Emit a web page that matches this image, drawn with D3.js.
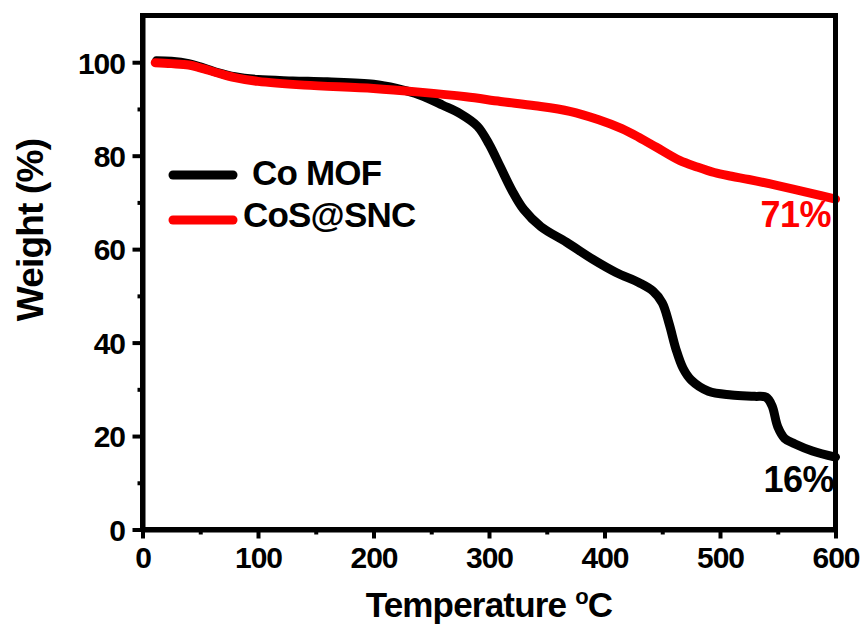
<!DOCTYPE html>
<html>
<head>
<meta charset="utf-8">
<script src="https://cdn.jsdelivr.net/npm/d3@7"></script>
<style>
  body { margin: 0; background: #fff; }
  text { font-family: "Liberation Sans", Arial, sans-serif; font-weight: bold; }
</style>
</head>
<body>
<svg id="chart" width="866" height="632"></svg>
<script>
// TGA curves (temperature in oC, weight in %)
var mofTemp = [12, 25, 40, 50, 65, 80, 100, 130, 160, 200, 220, 240, 260, 275, 290, 300, 310, 320, 330, 345, 367, 390, 410, 430, 442, 450, 456, 462, 468, 475, 490, 510, 530, 540, 545, 550, 556, 565, 580, 600];
var mofWeight = [100.3, 100.2, 99.7, 99.0, 97.8, 96.9, 96.3, 96.0, 95.8, 95.3, 94.4, 93.0, 90.8, 89.0, 86.3, 82.5, 77.5, 72.5, 68.5, 64.8, 61.5, 57.8, 55.0, 52.8, 51.0, 48.5, 44.0, 38.5, 34.5, 32.0, 29.6, 28.8, 28.5, 28.3, 26.5, 22.0, 19.5, 18.3, 16.8, 15.5];

var cosTemp = [11, 25, 40, 50, 65, 80, 100, 140, 200, 240, 280, 310, 340, 370, 395, 415, 430, 445, 465, 480, 495, 510, 525, 550, 580, 600];
var cosWeight = [99.9, 99.7, 99.4, 98.8, 97.7, 96.7, 95.9, 95.1, 94.4, 93.6, 92.6, 91.6, 90.7, 89.5, 87.7, 85.8, 83.9, 81.8, 79.0, 77.6, 76.4, 75.6, 74.9, 73.6, 71.9, 70.7];

var seriesNames = ["Co MOF", "CoS@SNC"];
var seriesColors = ["#000000", "#ff0000"];
var endLabels = ["16%", "71%"];

var xTicks = [0, 100, 200, 300, 400, 500, 600];
var xMinor = [50, 150, 250, 350, 450, 550];
var yTicks = [0, 20, 40, 60, 80, 100];
var yMinor = [10, 30, 50, 70, 90];

var svg = d3.select("#chart");
var pLeft = 142.5, pRight = 835.5, pTop = 15.5, pBottom = 529.5;

var x = d3.scaleLinear().domain([0, 600]).range([pLeft, pRight]);
var y = d3.scaleLinear().domain([0, 110]).range([pBottom, pTop]);

function pts(t, w) {
	return t.map(function(d, i) { return [d, w[i]]; });
}
var series = [pts(mofTemp, mofWeight), pts(cosTemp, cosWeight)];

var line = d3.line()
	.x(function(d) { return x(d[0]); })
	.y(function(d) { return y(d[1]); })
	.curve(d3.curveCatmullRom.alpha(0.5));

// end labels (drawn under the frame, like the original)
svg.append("text").attr("x", 834).attr("y", 492).attr("text-anchor", "end")
	.attr("font-size", 36).attr("letter-spacing", -0.5).attr("fill", seriesColors[0]).text(endLabels[0]);
svg.append("text").attr("x", 831).attr("y", 227).attr("text-anchor", "end")
	.attr("font-size", 36).attr("letter-spacing", -0.5).attr("fill", seriesColors[1]).text(endLabels[1]);

series.forEach(function(s, i) {
	svg.append("path")
		.datum(s)
		.attr("d", line)
		.attr("fill", "none")
		.attr("stroke", seriesColors[i])
		.attr("stroke-width", 9)
		.attr("stroke-linecap", "round")
		.attr("stroke-linejoin", "round");
});

// frame top / right
svg.append("line").attr("x1", pLeft).attr("x2", pRight + 2.5).attr("y1", pTop).attr("y2", pTop)
	.attr("stroke", "#000").attr("stroke-width", 5);
svg.append("line").attr("x1", pRight).attr("x2", pRight).attr("y1", pTop).attr("y2", pBottom)
	.attr("stroke", "#000").attr("stroke-width", 5);

// minor ticks
var xm = svg.append("g").attr("transform", "translate(0," + pBottom + ")")
	.call(d3.axisBottom(x).tickValues(xMinor).tickSize(5).tickSizeOuter(0).tickFormat(""));
var ym = svg.append("g").attr("transform", "translate(" + pLeft + ",0)")
	.call(d3.axisLeft(y).tickValues(yMinor).tickSize(5).tickSizeOuter(0).tickFormat(""));

var xa = svg.append("g").attr("transform", "translate(0," + pBottom + ")")
	.call(d3.axisBottom(x).tickValues(xTicks).tickSize(9).tickSizeOuter(0));
var ya = svg.append("g").attr("transform", "translate(" + pLeft + ",0)")
	.call(d3.axisLeft(y).tickValues(yTicks).tickSize(10).tickSizeOuter(0));

[xm, ym, xa, ya].forEach(function(g) {
	g.select(".domain").attr("stroke", "#000").attr("stroke-width", 5);
	g.selectAll(".tick line").attr("stroke", "#000").attr("stroke-width", 4);
});
xa.select(".domain").attr("d", "M" + (pLeft - 2.5) + ",0H" + (pRight + 2.5));
ya.select(".domain").attr("d", "M0," + (pBottom + 2.5) + "V" + (pTop - 2.5));

xa.selectAll(".tick text").attr("y", 38.5).attr("dy", 0)
	.attr("font-size", 30).attr("letter-spacing", -1).attr("fill", "#000")
	.attr("font-family", "Liberation Sans, Arial, sans-serif");
ya.selectAll(".tick text").attr("x", -17.5).attr("dy", "0.36em")
	.attr("font-size", 30).attr("letter-spacing", -1).attr("fill", "#000")
	.attr("font-family", "Liberation Sans, Arial, sans-serif");

// axis titles
var xt = svg.append("text").attr("x", (pLeft + pRight) / 2).attr("y", 617)
	.attr("text-anchor", "middle").attr("font-size", 35).attr("letter-spacing", -0.8);
xt.append("tspan").text("Temperature ");
xt.append("tspan").attr("font-size", 22).attr("dy", -13).text("o");
xt.append("tspan").attr("dy", 13).text("C");

svg.append("text")
	.attr("transform", "translate(43,230) rotate(-90)")
	.attr("text-anchor", "middle").attr("font-size", 37).attr("letter-spacing", -0.8)
	.text("Weight (%)");

// legend
var legend = [{y: 175, tx: 252, ty: 185}, {y: 220, tx: 243, ty: 227}];
legend.forEach(function(l, i) {
	svg.append("line").attr("x1", 173).attr("x2", 233).attr("y1", l.y).attr("y2", l.y)
		.attr("stroke", seriesColors[i]).attr("stroke-width", 9).attr("stroke-linecap", "round");
	svg.append("text").attr("x", l.tx).attr("y", l.ty).attr("font-size", 35)
		.attr("letter-spacing", -0.8).attr("fill", "#000").text(seriesNames[i]);
});
</script>
</body>
</html>
